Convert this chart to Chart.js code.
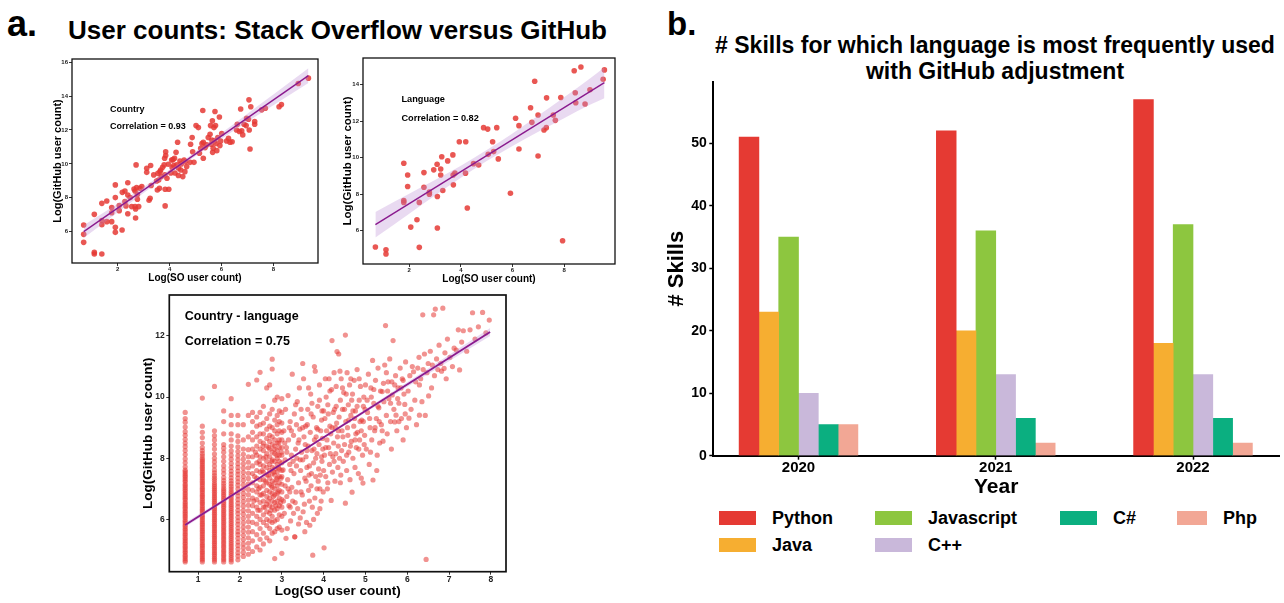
<!DOCTYPE html>
<html>
<head>
<meta charset="utf-8">
<script src="https://cdn.jsdelivr.net/npm/chart.js@4.4.0/dist/chart.umd.min.js"></script>
<style>
body { margin: 0; width: 1284px; height: 603px; overflow: hidden; background: #fff; font-family: "Liberation Sans", Arial, sans-serif; }
canvas { position: absolute; }
.lbl { position: absolute; font-weight: bold; color: #000; white-space: nowrap; line-height: 1; }
#legend { position: absolute; left: 719px; top: 504.5px; display: grid; grid-template-rows: 27px 27px; grid-template-columns: 156px 185px 117px 80px; }
#legend .item { display: flex; align-items: center; font-weight: bold; font-size: 18px; line-height: 1; }
#legend .sw { width: 37px; height: 14px; margin-right: 16px; }
</style>
</head>
<body>
<div class="lbl" style="left:7px;top:5.5px;font-size:36px">a.</div>
<div class="lbl" style="left:0;width:675px;text-align:center;top:17px;font-size:26px">User counts: Stack Overflow versus GitHub</div>
<div class="lbl" style="left:667px;top:6.5px;font-size:33px">b.</div>
<div class="lbl" style="left:700px;width:590px;text-align:center;top:31.5px;font-size:23px;line-height:26.7px"># Skills for which language is most frequently used<br>with GitHub adjustment</div>

<canvas id="country" width="310" height="245" style="left:20px;top:50px"></canvas>
<canvas id="language" width="320" height="250" style="left:310px;top:50px"></canvas>
<canvas id="countryLang" width="380" height="318" style="left:130px;top:285px"></canvas>
<canvas id="skills" width="644" height="430" style="left:640px;top:70px"></canvas>
<div id="legend"></div>

<script>
// ---- panel a, top left: country level (log SO users, log GitHub users)
const countryPts = [[0.69,6.39],[0.69,5.84],[0.69,5.37],[1.1,4.78],[1.1,4.68],[1.39,4.68],[1.1,7.02],[1.39,7.67],[1.39,6.65],[1.39,6.41],[1.58,7.81],[1.58,6.59],[1.77,7.42],[1.77,7.12],[1.77,6.59],[1.91,8.76],[1.91,8.01],[1.91,6.26],[1.91,5.96],[2.06,7.54],[2.06,7.24],[2.17,6.1],[2.18,8.32],[2.28,8.4],[2.28,7.77],[2.32,7.52],[2.39,8.89],[2.39,8.16],[2.39,7.06],[2.48,8.01],[2.54,7.48],[2.63,8.52],[2.67,8.4],[2.67,7.48],[2.71,9.94],[2.69,7.34],[2.69,6.81],[2.73,8.6],[2.76,8.2],[2.76,7.91],[2.81,7.48],[2.86,8.56],[2.93,8.66],[3.12,9.74],[3.12,9.5],[3.21,7.85],[3.25,7.97],[3.27,9.9],[3.29,8.72],[3.39,9.35],[3.5,8.99],[3.53,8.46],[3.55,9.44],[3.58,9.05],[3.61,8.56],[3.63,9.54],[3.66,9.64],[3.68,9.25],[3.73,9.8],[3.79,9.94],[3.81,10.33],[3.82,9.35],[3.83,8.5],[3.83,7.52],[3.85,10.72],[3.85,10.49],[3.9,9.15],[3.95,9.98],[3.97,8.5],[4.05,9.46],[4.08,10.23],[4.1,9.78],[4.13,10.25],[4.16,9.9],[4.19,10.33],[4.21,9.46],[4.25,10.68],[4.27,9.94],[4.31,11.28],[4.34,9.31],[4.35,9.74],[4.4,10.17],[4.43,9.64],[4.45,10.0],[4.51,9.25],[4.56,10.23],[4.59,9.54],[4.61,10.13],[4.66,9.84],[4.79,10.09],[4.81,11.16],[4.87,11.55],[4.89,10.72],[4.94,10.09],[5.02,12.26],[5.11,12.14],[5.15,10.63],[5.2,10.92],[5.25,11.2],[5.28,13.15],[5.3,11.28],[5.3,10.33],[5.37,10.96],[5.43,11.12],[5.49,11.55],[5.56,11.75],[5.58,12.26],[5.61,11.16],[5.63,11.41],[5.65,12.54],[5.66,10.68],[5.68,10.92],[5.71,12.14],[5.73,11.37],[5.75,13.09],[5.77,12.26],[5.79,11.2],[5.82,10.78],[5.86,11.55],[5.92,12.77],[5.94,11.08],[5.97,11.35],[6.01,11.79],[6.2,11.35],[6.27,11.51],[6.33,11.28],[6.41,11.31],[6.58,12.0],[6.61,12.34],[6.69,11.91],[6.74,13.24],[6.78,11.95],[6.82,11.71],[6.87,12.34],[6.95,12.26],[6.97,12.69],[7.04,12.63],[7.06,13.78],[7.07,12.0],[7.1,10.88],[7.13,13.37],[7.28,12.5],[7.28,12.34],[7.55,13.19],[7.69,13.28],[8.22,13.37],[8.31,13.5],[8.96,14.74],[9.35,15.06]];
const countryLineX = [0.69, 9.35];
const countryLineY = [6.0, 15.21];
const countryBandX = [0.69, 2, 3, 4, 4.6, 5.5, 6.5, 7.5, 8.5, 9.35];
const countryBandLo = [5.62, 7.13, 8.28, 9.39, 10.04, 10.98, 11.98, 12.97, 13.95, 14.78];
const countryBandHi = [6.38, 7.65, 8.64, 9.65, 10.28, 11.26, 12.38, 13.53, 14.67, 15.64];
const countryNotes = ['Country', 'Correlation = 0.93'];

// ---- panel a, top right: language level
const languagePts = [[0.69,5.11],[1.1,4.96],[1.1,4.73],[1.79,9.69],[1.79,7.65],[1.79,7.55],[1.94,9.05],[1.94,8.42],[2.06,6.2],[2.3,6.6],[2.39,7.55],[2.39,5.09],[2.57,9.18],[2.57,8.38],[2.78,8.11],[2.78,8.0],[2.95,9.33],[3.08,9.64],[3.09,7.87],[3.09,6.15],[3.22,9.38],[3.22,9.05],[3.26,10.05],[3.3,8.2],[3.49,9.82],[3.69,10.15],[3.7,9.05],[3.71,8.51],[3.77,9.15],[3.94,10.87],[4.18,9.15],[4.19,10.87],[4.25,7.24],[4.49,9.67],[4.69,9.6],[4.88,11.64],[5.04,11.56],[5.06,10.18],[5.23,10.87],[5.27,10.33],[5.39,11.64],[5.45,9.93],[5.92,8.05],[6.12,12.15],[6.25,11.75],[6.25,10.47],[6.7,12.73],[6.75,11.93],[6.86,14.18],[6.99,12.33],[6.99,10.09],[7.22,11.51],[7.31,11.64],[7.32,13.27],[7.58,12.33],[7.66,12.04],[7.87,13.29],[7.94,5.45],[8.39,14.75],[8.43,13.55],[8.45,13.0],[8.65,14.96],[8.81,12.93],[9.0,13.71],[9.51,14.29],[9.56,14.8]];
const languageLineX = [0.69, 9.56];
const languageLineY = [6.33, 14.1];
const languageBandX = [0.69, 2, 3, 4, 5, 6, 7, 8, 9, 9.56];
const languageBandLo = [5.63, 6.93, 7.93, 8.9, 9.81, 10.64, 11.42, 12.16, 12.89, 13.25];
const languageBandHi = [7.03, 8.03, 8.77, 9.56, 10.41, 11.32, 12.3, 13.3, 14.33, 14.95];
const languageNotes = ['Language', 'Correlation = 0.82'];

// ---- panel a, bottom: country x language pairs
// columns where SO count is a small integer (log values line up)
const clColX = [0.69, 1.10, 1.39, 1.61, 1.79, 1.95, 2.08, 2.20, 2.30, 2.40, 2.48, 2.56, 2.64, 2.71, 2.77, 2.83, 2.89, 2.94, 3.00];
const clColY = [
  [4.61,4.66,4.72,4.78,4.83,4.9,4.95,5.01,5.07,5.12,5.19,5.24,5.3,5.36,5.41,5.48,5.53,5.59,5.65,5.7,5.77,5.82,5.88,5.94,5.99,6.06,6.11,6.17,6.23,6.28,6.35,6.4,6.46,6.52,6.57,6.64,6.69,6.75,6.81,6.86,6.93,6.98,7.04,7.1,7.15,7.22,7.27,7.33,7.39,7.44,7.5,7.56,7.61,7.72,7.85,7.98,8.12,8.25,8.38,8.5,8.62,8.75,8.87,9.02,9.18,9.3,9.5],
  [4.61,4.67,4.72,4.78,4.84,4.9,4.95,5.01,5.07,5.13,5.18,5.24,5.3,5.36,5.41,5.47,5.53,5.59,5.64,5.7,5.76,5.82,5.87,5.93,5.99,6.05,6.1,6.16,6.22,6.28,6.33,6.39,6.45,6.51,6.56,6.62,6.68,6.74,6.79,6.85,6.91,6.97,7.02,7.08,7.14,7.2,7.25,7.31,7.37,7.43,7.48,7.54,7.6,7.66,7.71,7.77,7.83,7.89,7.94,8.0,8.08,8.16,8.25,8.35,8.5,8.68,8.85,9.05,9.97],
  [4.61,4.67,4.73,4.79,4.85,4.91,4.97,5.03,5.09,5.15,5.21,5.27,5.33,5.39,5.45,5.51,5.57,5.63,5.69,5.75,5.81,5.87,5.93,5.99,6.05,6.11,6.17,6.23,6.29,6.35,6.41,6.47,6.53,6.59,6.65,6.71,6.77,6.83,6.89,6.95,7.01,7.07,7.13,7.2,7.28,7.35,7.43,7.52,7.62,7.75,7.88,8.0,8.14,8.3,8.45,8.6,8.74,8.9,10.35],
  [4.61,4.68,4.74,4.81,4.87,4.94,5.0,5.07,5.13,5.2,5.26,5.33,5.39,5.46,5.52,5.59,5.65,5.72,5.78,5.85,5.91,5.98,6.04,6.11,6.17,6.24,6.3,6.37,6.43,6.5,6.56,6.63,6.69,6.76,6.82,6.89,6.95,7.02,7.1,7.18,7.27,7.37,7.5,7.62,7.75,7.9,8.05,8.2,8.33,8.45,8.8,9.2,9.55],
  [4.61,4.68,4.75,4.82,4.89,4.96,5.03,5.1,5.17,5.24,5.31,5.38,5.45,5.52,5.59,5.66,5.73,5.8,5.87,5.94,6.01,6.08,6.15,6.22,6.29,6.36,6.43,6.5,6.57,6.64,6.71,6.78,6.85,6.92,7.0,7.08,7.17,7.26,7.36,7.47,7.58,7.7,7.83,7.97,8.1,8.24,8.4,8.6,8.8,9.1,9.4,9.95],
  [4.68,4.8,4.91,5.03,5.15,5.26,5.38,5.5,5.6,5.72,5.84,5.95,6.07,6.19,6.3,6.42,6.53,6.65,6.77,6.88,7.0,7.12,7.23,7.35,7.47,7.58,7.7,7.82,7.95,8.08,8.22,8.37,8.55,8.73,9.1,9.4],
  [4.79,4.93,5.07,5.2,5.34,5.48,5.62,5.75,5.89,6.03,6.17,6.3,6.44,6.58,6.72,6.85,6.99,7.13,7.27,7.4,7.54,7.68,7.82,7.97,8.13,8.3,8.6,9.1],
  [4.86,5.05,5.22,5.4,5.58,5.75,5.93,6.1,6.28,6.46,6.63,6.81,6.98,7.16,7.34,7.51,7.69,7.87,8.05,8.28,8.7,9.4,10.42],
  [4.95,5.3,5.6,5.9,6.2,6.45,6.7,6.95,7.2,7.5,7.75,8.05,8.3,8.6,8.85,9.2,9.5],
  [5.1,5.5,5.85,6.1,6.4,6.65,6.9,7.1,7.35,7.6,7.85,8.1,8.4,8.7,9.05,9.35,10.56],
  [5.0,5.35,5.7,6.0,6.3,6.55,6.8,7.05,7.3,7.55,7.8,8.05,8.3,8.55,8.8,9.1,9.5,10.81],
  [5.2,5.55,5.9,6.15,6.4,6.6,6.85,7.1,7.3,7.55,7.75,8.0,8.25,8.5,8.8,9.15,9.7],
  [5.4,5.8,6.0,6.25,6.5,6.75,6.95,7.2,7.45,7.7,7.9,8.15,8.4,8.65,8.95,9.3,10.3],
  [5.3,5.7,5.95,6.2,6.45,6.7,6.9,7.15,7.35,7.6,7.8,8.05,8.3,8.55,8.75,9.05,9.45,10.4],
  [5.55,5.9,6.1,6.4,6.6,6.85,7.05,7.25,7.5,7.7,7.95,8.2,8.45,8.7,9.0,9.6,10.92,11.24],
  [4.72,5.6,5.95,6.3,6.55,6.8,7.0,7.2,7.45,7.65,7.9,8.15,8.4,8.6,8.9,9.25,9.9],
  [5.7,6.0,6.35,6.6,6.85,7.1,7.35,7.55,7.8,8.0,8.25,8.5,8.8,9.1,9.4,10.0],
  [5.75,6.15,6.45,6.7,6.95,7.2,7.4,7.65,7.9,8.1,8.35,8.6,8.9,9.2,9.55],
  [4.89,5.65,6.1,6.4,6.65,6.9,7.15,7.4,7.6,7.85,8.1,8.35,8.6,8.85,9.15,9.5,9.95]
];
const clCloud = [[3.03,7.62],[3.05,8.9],[3.06,6.2],[3.08,7.95],[3.09,9.6],[3.1,5.38],[3.11,8.35],[3.12,6.75],[3.14,7.3],[3.15,10.05],[3.16,8.6],[3.17,6.45],[3.19,7.8],[3.2,9.2],[3.21,5.95],[3.23,8.1],[3.24,7.05],[3.25,10.75],[3.26,6.6],[3.28,8.75],[3.29,7.5],[3.3,9.45],[3.31,5.43],[3.33,8.3],[3.34,6.9],[3.35,7.75],[3.37,9.85],[3.38,6.35],[3.39,8.5],[3.4,7.2],[3.42,10.3],[3.43,8.95],[3.44,6.05],[3.45,7.6],[3.47,8.2],[3.48,9.3],[3.49,6.8],[3.5,7.95],[3.52,10.6],[3.53,8.7],[3.54,6.5],[3.55,7.35],[3.57,9.05],[3.58,8.05],[3.59,5.9],[3.6,7.7],[3.62,9.6],[3.63,8.4],[3.64,6.95],[3.65,7.45],[3.67,5.81],[3.68,8.85],[3.69,10.1],[3.7,7.1],[3.72,8.25],[3.73,6.4],[3.74,4.83],[3.75,9.35],[3.76,7.85],[3.78,8.6],[3.79,6.7],[3.8,10.85],[3.81,7.4],[3.83,9.0],[3.84,8.15],[3.85,6.2],[3.86,9.7],[3.88,7.65],[3.89,8.45],[3.9,10.4],[3.91,7.0],[3.93,8.9],[3.94,6.6],[3.95,9.25],[3.96,7.9],[3.98,8.3],[3.99,6.9],[4.0,9.55],
  [3.15,7.0],[3.22,7.6],[3.36,8.0],[3.46,6.9],[3.56,8.45],[3.66,7.75],[3.77,8.3],[3.87,7.25],[3.97,8.65],[3.12,8.2],[3.27,7.9],[3.41,8.6],[3.51,6.25],[3.61,9.1],[3.71,7.5],[3.82,8.7],[3.92,7.45],[3.18,9.0],[3.32,6.55],[3.46,9.6],[3.58,7.25],[3.7,9.45],[3.84,7.0],[3.95,8.05],[3.08,7.1],[3.2,6.4],[3.33,9.75],[3.5,11.1],[3.64,10.3],[3.78,11.0],[3.9,9.9],[3.31,5.43],
  [2.33,6.6],[2.35,7.4],[2.37,8.2],[2.43,6.3],[2.45,7.0],[2.46,7.9],[2.52,6.8],[2.53,7.6],[2.55,8.4],[2.6,6.4],[2.61,7.25],[2.62,8.05],[2.67,6.6],[2.68,7.45],[2.69,8.35],[2.74,6.3],[2.75,7.1],[2.76,7.9],[2.8,6.75],[2.81,7.55],[2.82,8.3],[2.86,6.45],[2.87,7.3],[2.88,8.1],[2.91,6.9],[2.92,7.7],[2.93,8.5],[2.97,6.55],[2.98,7.35],[2.99,8.2],
  [3.04,6.6],[3.07,8.5],[3.13,5.7],[3.19,6.9],[3.23,8.9],[3.28,6.2],[3.35,9.1],[3.4,5.85],[3.44,7.95],[3.5,9.0],[3.55,5.6],[3.6,8.25],[3.66,6.6],[3.72,9.8],[3.76,6.0],[3.81,8.0],[3.86,8.95],[3.91,6.35],[3.96,9.55],[4.0,7.6],
  [4.01,5.07],[4.02,8.1],[4.03,9.3],[4.05,7.4],[4.06,10.0],[4.08,8.6],[4.09,7.0],[4.1,9.75],[4.12,8.35],[4.13,10.6],[4.14,7.8],[4.15,9.05],[4.17,8.8],[4.18,6.62],[4.19,10.25],[4.2,11.85],[4.21,7.55],[4.23,9.5],[4.24,8.5],[4.25,10.8],[4.27,7.25],[4.28,9.0],[4.29,8.15],[4.3,10.35],[4.32,11.49],[4.33,8.7],[4.34,7.7],[4.36,11.41],[4.37,9.35],[4.38,8.0],[4.4,9.9],[4.41,7.45],[4.42,10.6],[4.44,8.9],[4.45,9.6],[4.47,7.9],[4.48,10.15],[4.5,8.45],[4.52,12.03],[4.52,6.53],[4.53,9.2],[4.55,7.6],[4.56,10.8],[4.58,8.75],[4.59,9.75],[4.6,8.2],[4.62,10.4],[4.63,7.3],[4.65,9.4],[4.66,8.55],[4.68,6.89],[4.69,10.1],[4.7,8.0],[4.72,9.05],[4.73,10.55],[4.75,7.7],[4.76,9.55],[4.78,8.35],[4.8,10.9],[4.81,8.85],[4.83,7.5],[4.85,9.9],[4.86,8.6],[4.88,10.35],[4.9,7.35],[4.91,9.25],[4.93,8.1],[4.94,7.19],[4.96,10.0],[4.98,8.75],[4.99,9.6],
  [4.07,8.9],[4.16,8.15],[4.26,9.6],[4.35,8.9],[4.46,8.7],[4.57,9.0],[4.67,9.9],[4.77,8.8],[4.87,9.2],[4.97,8.45],[4.11,9.45],[4.22,8.05],[4.31,9.15],[4.43,8.25],[4.54,10.1],[4.64,8.4],[4.74,9.3],[4.84,8.3],[4.95,9.2],[4.04,10.6],[4.39,10.85],
  [4.05,8.35],[4.1,7.2],[4.15,10.2],[4.2,9.0],[4.25,7.9],[4.3,9.7],[4.35,8.4],[4.4,7.2],[4.45,10.3],[4.5,9.6],[4.55,8.1],[4.6,9.25],[4.65,10.6],[4.7,9.55],[4.75,8.6],[4.8,9.7],[4.85,10.6],[4.9,8.9],[4.95,9.7],[5.0,10.4],
  [5.02,8.3],[5.05,9.5],[5.07,10.75],[5.09,7.8],[5.11,9.0],[5.13,10.3],[5.15,8.6],[5.17,11.2],[5.18,7.29],[5.2,9.8],[5.22,8.9],[5.24,10.55],[5.26,9.3],[5.28,8.1],[5.3,10.95],[5.32,9.65],[5.34,8.5],[5.36,10.2],[5.38,9.1],[5.4,10.18],[5.42,8.56],[5.44,9.85],[5.46,11.05],[5.48,12.34],[5.5,9.4],[5.52,8.8],[5.54,10.5],[5.56,9.95],[5.58,11.25],[5.6,9.2],[5.62,8.3],[5.64,10.07],[5.66,11.85],[5.68,9.6],[5.7,9.19],[5.72,10.7],[5.73,9.41],[5.75,8.9],[5.78,10.3],[5.8,9.8],[5.83,10.95],[5.86,9.3],[5.88,10.6],[5.9,8.6],[5.92,10.1],[5.94,9.76],[5.96,11.15],[5.98,9.0],
  [5.04,9.9],[5.14,10.0],[5.23,9.0],[5.33,9.2],[5.43,10.45],[5.53,10.2],[5.63,10.5],[5.77,9.95],[5.85,10.3],[5.12,8.2],[5.27,7.6],
  [5.1,9.3],[5.2,10.25],[5.3,9.7],[5.4,8.9],[5.5,10.8],[5.6,9.8],[5.7,10.4],[5.8,9.2],[5.9,10.55],[5.95,9.45],
  [6.02,10.2],[6.04,9.31],[6.06,10.7],[6.09,9.6],[6.12,11.0],[6.15,10.83],[6.18,9.9],[6.2,10.5],[6.22,9.1],[6.25,10.95],[6.28,11.3],[6.29,10.4],[6.29,9.41],[6.32,10.6],[6.35,9.85],[6.37,12.69],[6.38,10.9],[6.41,11.41],[6.43,9.4],[6.45,4.69],[6.47,10.8],[6.5,11.1],[6.51,10.04],[6.55,11.5],[6.58,10.3],[6.6,11.05],[6.63,12.69],[6.65,10.7],[6.67,12.88],[6.7,11.25],[6.73,10.9],[6.76,11.7],[6.8,11.1],[6.82,10.85],[6.85,12.91],[6.88,10.94],[6.9,11.45],[6.93,10.6],[6.96,11.9],
  [7.02,11.3],[7.08,11.0],[7.12,11.6],[7.17,11.54],[7.22,12.2],[7.25,10.89],[7.3,11.8],[7.34,12.17],[7.42,11.5],[7.5,12.2],[7.56,12.76],[7.62,11.9],[7.7,12.3],[7.8,12.77],[7.88,12.1],[7.96,12.52]];
const clLineX = [0.69, 7.98];
const clLineY = [5.82, 12.13];
const clBandX = [0.69, 2, 3.5, 5, 6.5, 7.98];
const clBandLo = [5.75, 6.9, 8.22, 9.5, 10.76, 12.0];
const clBandHi = [5.89, 7.0, 8.28, 9.6, 10.94, 12.26];
const clNotes = ['Country - language', 'Correlation = 0.75'];

// ---- panel b: # skills per language
const years = ['2020', '2021', '2022'];
const languages = ['Python', 'Java', 'Javascript', 'C++', 'C#', 'Php'];
const python = [51, 52, 57];
const java = [23, 20, 18];
const javascript = [35, 36, 37];
const cpp = [10, 13, 13];
const csharp = [5, 6, 6];
const php = [5, 2, 2];
const langColors = ['#E53A33', '#F6AE31', '#8DC63F', '#C9B8DA', '#0BAF80', '#F2A795'];

Chart.defaults.font.family = '"Liberation Sans", Arial, sans-serif';
Chart.defaults.font.weight = 'bold';
Chart.defaults.color = '#000';

const framePlugin = {
    id: 'frame',
    afterDatasetsDraw(chart, args, opts) {
        const { ctx, chartArea: a } = chart;
        ctx.save();
        ctx.strokeStyle = '#111';
        ctx.lineWidth = opts.width;
        ctx.strokeRect(a.left, a.top, a.right - a.left, a.bottom - a.top);
        ctx.restore();
    }
};

const notePlugin = {
    id: 'notes',
    afterDatasetsDraw(chart, args, opts) {
        const { ctx, scales } = chart;
        ctx.save();
        ctx.font = `bold ${opts.size}px "Liberation Sans", Arial, sans-serif`;
        ctx.fillStyle = '#000';
        ctx.textAlign = 'left';
        ctx.textBaseline = 'middle';
        opts.items.forEach((it) => {
            ctx.fillText(it.text, scales.x.getPixelForValue(it.x), scales.y.getPixelForValue(it.y));
        });
        ctx.restore();
    }
};

function toXY(xs, ys) {
    return xs.map((x, i) => ({ x, y: ys[i] }));
}

function scatterChart(id, o) {
    const tickFont = { size: o.tickSize, weight: 'bold' };
    return new Chart(document.getElementById(id), {
        type: 'scatter',
        data: {
            datasets: [
                { type: 'line', data: toXY(o.lineX, o.lineY), borderColor: '#8A1A8E', borderWidth: o.lineW, pointRadius: 0 },
                { type: 'line', data: toXY(o.bandX, o.bandHi), borderColor: 'transparent', pointRadius: 0, cubicInterpolationMode: 'monotone' },
                { type: 'line', data: toXY(o.bandX, o.bandLo), borderColor: 'transparent', pointRadius: 0, cubicInterpolationMode: 'monotone',
                  fill: '-1', backgroundColor: 'rgba(186, 140, 210, 0.32)' },
                { data: o.pts, pointRadius: o.r, pointBackgroundColor: o.ptColor, pointBorderWidth: 0 },
            ],
        },
        options: {
            responsive: false,
            devicePixelRatio: 1,
            animation: false,
            events: [],
            layout: { padding: o.pad },
            plugins: {
                legend: { display: false },
                tooltip: { enabled: false },
                frame: { width: o.frameW },
                notes: { size: o.noteSize, items: o.notes },
            },
            scales: {
                x: {
                    type: 'linear', min: o.xMin, max: o.xMax,
                    afterFit: (s) => { s.height = o.xH; },
                    border: { display: false },
                    grid: { drawOnChartArea: false, tickLength: o.tl, tickColor: '#333', tickWidth: 1 },
                    ticks: { stepSize: o.xStep, includeBounds: false, color: '#222', font: tickFont, padding: 0, maxRotation: 0 },
                    title: { display: true, text: 'Log(SO user count)', color: '#000', font: { size: o.xTitleSize, weight: 'bold' }, padding: { top: 0, bottom: o.xTitlePad } },
                },
                y: {
                    type: 'linear', min: o.yMin, max: o.yMax,
                    afterFit: (s) => { s.width = o.yW; },
                    border: { display: false },
                    grid: { drawOnChartArea: false, tickLength: o.tl, tickColor: '#333', tickWidth: 1 },
                    ticks: { stepSize: 2, includeBounds: false, color: '#222', font: tickFont, padding: o.yTickPad },
                    title: { display: true, text: 'Log(GitHub user count)', color: '#000', font: { size: o.yTitleSize, weight: 'bold' }, padding: { top: o.yTitlePad, bottom: 0 } },
                },
            },
        },
        plugins: [framePlugin, notePlugin],
    });
}

scatterChart('country', {
    pts: countryPts.map(p => ({ x: p[0], y: p[1] })),
    lineX: countryLineX, lineY: countryLineY,
    bandX: countryBandX, bandLo: countryBandLo, bandHi: countryBandHi,
    r: 2.8, ptColor: 'rgba(229, 57, 53, 0.85)', lineW: 1.4, frameW: 1.3,
    pad: { top: 9, right: 12, left: 0, bottom: 0 },
    xMin: 0.24, xMax: 9.72, xStep: 2, xH: 32, yMin: 4.15, yMax: 16.19, yW: 52,
    tl: 3, tickSize: 6, yTickPad: 1,
    xTitleSize: 10, xTitlePad: 11, yTitleSize: 11, yTitlePad: 31.7,
    noteSize: 9,
    notes: [{ text: countryNotes[0], x: 1.7, y: 13.19 }, { text: countryNotes[1], x: 1.7, y: 12.18 }],
});

scatterChart('language', {
    pts: languagePts.map(p => ({ x: p[0], y: p[1] })),
    lineX: languageLineX, lineY: languageLineY,
    bandX: languageBandX, bandLo: languageBandLo, bandHi: languageBandHi,
    r: 2.8, ptColor: 'rgba(229, 57, 53, 0.85)', lineW: 1.4, frameW: 1.3,
    pad: { top: 8, right: 15, left: 0, bottom: 0 },
    xMin: 0.21, xMax: 9.97, xStep: 2, xH: 36, yMin: 4.18, yMax: 15.45, yW: 53,
    tl: 3, tickSize: 6, yTickPad: 1,
    xTitleSize: 10, xTitlePad: 15, yTitleSize: 11.5, yTitlePad: 31.4,
    noteSize: 9.2,
    notes: [{ text: languageNotes[0], x: 1.7, y: 13.18 }, { text: languageNotes[1], x: 1.7, y: 12.16 }],
});

const clPts = [];
clColX.forEach((x, i) => clColY[i].forEach(y => clPts.push({ x, y })));
clCloud.forEach(p => clPts.push({ x: p[0], y: p[1] }));

scatterChart('countryLang', {
    pts: clPts,
    lineX: clLineX, lineY: clLineY,
    bandX: clBandX, bandLo: clBandLo, bandHi: clBandHi,
    r: 2.6, ptColor: 'rgba(229, 57, 53, 0.55)', lineW: 1.8, frameW: 1.7,
    pad: { top: 10, right: 3.3, left: 0, bottom: 0 },
    xMin: 0.31, xMax: 8.36, xStep: 1, xH: 31.3, yMin: 4.29, yMax: 13.34, yW: 39.3,
    tl: 3, tickSize: 8.5, yTickPad: 1.5,
    xTitleSize: 13.5, xTitlePad: 3.2, yTitleSize: 13.5, yTitlePad: 10.2,
    noteSize: 12.5,
    notes: [{ text: clNotes[0], x: 0.68, y: 12.63 }, { text: clNotes[1], x: 0.68, y: 11.81 }],
});

// ---- bar chart, years on a linear axis so the group spacing matches
const skillSeries = [python, java, javascript, cpp, csharp, php];
const skillsChart = new Chart(document.getElementById('skills'), {
    type: 'bar',
    data: {
        datasets: languages.map((name, i) => ({
            label: name,
            data: years.map((_, j) => ({ x: j + 1, y: skillSeries[i][j] })),
            backgroundColor: langColors[i],
            barThickness: 19.8,
        })),
    },
    options: {
        responsive: false,
        devicePixelRatio: 1,
        animation: false,
        events: [],
        layout: { padding: { top: 11.7, right: 5, left: 0, bottom: 0 } },
        plugins: { legend: { display: false }, tooltip: { enabled: false } },
        scales: {
            x: {
                type: 'linear', min: 0.568, max: 3.436, offset: false,
                afterFit: (s) => { s.height = 44.3; },
                border: { display: true, color: '#000', width: 2 },
                grid: { offset: false, drawOnChartArea: false, tickLength: 4, tickColor: '#000', tickWidth: 1.5 },
                ticks: { stepSize: 1, includeBounds: false, padding: -1, color: '#000', font: { size: 15, weight: 'bold' },
                         callback: (v) => years[v - 1] },
                title: { display: true, text: 'Year', color: '#000', font: { size: 21, weight: 'bold' }, padding: { top: 0, bottom: 0 } },
            },
            y: {
                min: 0, max: 59.85,
                afterFit: (s) => { s.width = 73.3; },
                border: { display: true, color: '#000', width: 2 },
                grid: { drawOnChartArea: false, tickLength: 4, tickColor: '#000', tickWidth: 1.5 },
                ticks: { stepSize: 10, includeBounds: false, padding: 2.6, color: '#000', font: { size: 14, weight: 'bold' } },
                title: { display: true, text: '# Skills', color: '#000', font: { size: 22, weight: 'bold' }, padding: { top: 23.8, bottom: 0 } },
            },
        },
    },
});

// legend laid out like the original: two rows, Python/Java and Javascript/C++ stacked
const legendSlots = [[1, 1], [2, 1], [1, 2], [2, 2], [1, 3], [1, 4]];
const legendEl = document.getElementById('legend');
skillsChart.data.datasets.forEach((ds, i) => {
    const item = document.createElement('div');
    item.className = 'item';
    item.style.gridRow = legendSlots[i][0];
    item.style.gridColumn = legendSlots[i][1];
    const sw = document.createElement('span');
    sw.className = 'sw';
    sw.style.background = ds.backgroundColor;
    const txt = document.createElement('span');
    txt.textContent = ds.label;
    item.appendChild(sw);
    item.appendChild(txt);
    legendEl.appendChild(item);
});
</script>
</body>
</html>
